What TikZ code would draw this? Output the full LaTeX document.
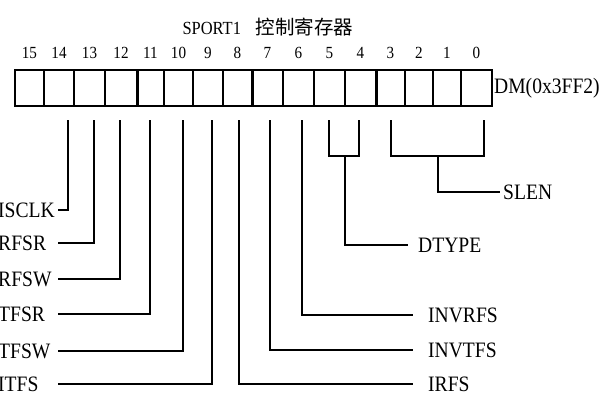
\documentclass[tikz,border=0pt]{standalone}
\usepackage{fontspec}
\setmainfont{Liberation Serif}[FakeStretch=0.89]
\newfontfamily\cjk{Noto Sans CJK SC}
\begin{document}
\begin{tikzpicture}[x=1pt,y=-1pt,
  cell/.style={draw, line width=1.3pt, minimum height=36pt, inner sep=0pt, outer sep=0pt},
  lbl/.style={font=\fontsize{22}{22}\selectfont, inner sep=0pt, anchor=west},
  bitlbl/.style={font=\fontsize{17}{17}\selectfont, inner sep=0pt},
  titlelbl/.style={font=\fontsize{18.5}{18.5}\selectfont, inner sep=0pt},
  wire/.style={line width=1.3pt},
  divider/.style={line width=3pt}]
\useasboundingbox (0,0) rectangle (600,400);
% cells
\foreach \b/\l/\r in {15/15/44,14/44/74,13/74/105,12/105/137,11/137/164,10/164/193,9/193/223,8/223/252,7/252/283,6/283/314,5/314/345,4/345/376,3/376/405,2/405/433,1/433/461,0/461/492}{
  \pgfmathsetmacro\w{\r-\l}
  \pgfmathsetmacro\cx{(\l+\r)/2}
  \node[cell, minimum width=\w pt] (c\b) at (\cx,88) {};
  \node[bitlbl] (n\b) at (\cx,53) {\b};
}
\draw[line width=1.8pt] (c15.north west) rectangle (c0.south east);
\draw[divider] (c12.north east) -- (c12.south east);
\draw[divider] (c8.north east) -- (c8.south east);
\draw[divider] (c4.north east) -- (c4.south east);
% title and address
\node[titlelbl] (title) at (268,27) {SPORT1\hspace{15pt}{\cjk\fontsize{19.5}{19.5}\selectfont 控制寄存器}};
\node[lbl] (dm) at (494,88) {DM(0x3FF2)};
% left labels
\node[lbl] (isclk) at (-2,210) {ISCLK};
\node[lbl] (rfsr) at (-2,243) {RFSR};
\node[lbl] (rfsw) at (-2,279) {RFSW};
\node[lbl] (tfsr) at (-2,314) {TFSR};
\node[lbl] (tfsw) at (-2,351) {TFSW};
\node[lbl] (itfs) at (-2,384) {ITFS};
% right labels
\node[lbl] (invrfs) at (428,315) {INVRFS};
\node[lbl] (invtfs) at (428,350) {INVTFS};
\node[lbl] (irfs) at (428,384) {IRFS};
\node[lbl] (dtype) at (418,245) {DTYPE};
\node[lbl] (slen) at (503,192) {SLEN};
% connector tops
\coordinate (t14) at (68,120);
\coordinate (t13) at (94,120);
\coordinate (t12) at (120,120);
\coordinate (t11) at (150,120);
\coordinate (t10) at (183,120);
\coordinate (t9) at (212,120);
\coordinate (t8) at (239,120);
\coordinate (t7) at (270,120);
\coordinate (t6) at (302,120);
% connector ends
\coordinate (e14) at (58,210);
\coordinate (e13) at (58,243);
\coordinate (e12) at (58,279);
\coordinate (e11) at (58,314);
\coordinate (e10) at (58,351);
\coordinate (e9) at (58,384);
\coordinate (e8) at (413,384);
\coordinate (e7) at (413,350);
\coordinate (e6) at (413,315);
\draw[wire] (t14) |- (e14);
\draw[wire] (t13) |- (e13);
\draw[wire] (t12) |- (e12);
\draw[wire] (t11) |- (e11);
\draw[wire] (t10) |- (e10);
\draw[wire] (t9) |- (e9);
\draw[wire] (t8) |- (e8);
\draw[wire] (t7) |- (e7);
\draw[wire] (t6) |- (e6);
% DTYPE bracket
\coordinate (d5) at (329,120);
\coordinate (d4) at (359,120);
\coordinate (dm5) at (345,156);
\coordinate (de) at (408,245);
\draw[wire] (d5) |- (dm5) -| (d4);
\draw[wire] (dm5) |- (de);
% SLEN bracket
\coordinate (s3) at (391,120);
\coordinate (s0) at (484,120);
\coordinate (sm) at (438,156);
\coordinate (se) at (500,192);
\draw[wire] (s3) |- (sm) -| (s0);
\draw[wire] (sm) |- (se);
\end{tikzpicture}
\end{document}
